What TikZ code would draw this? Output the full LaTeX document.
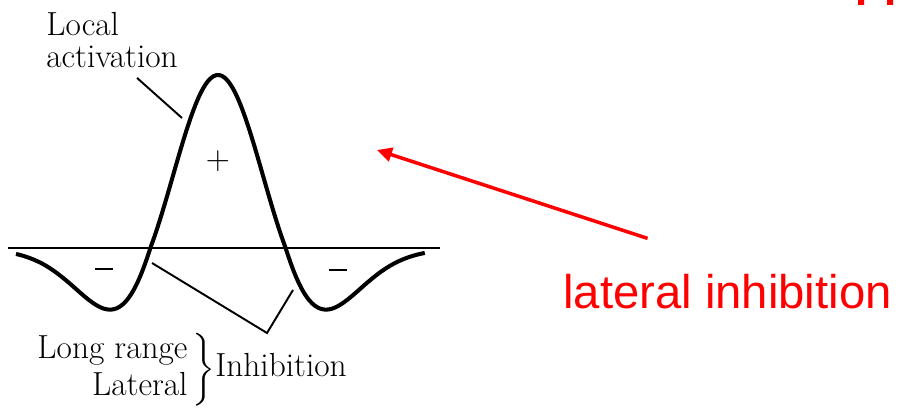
\documentclass[tikz,border=0pt]{standalone}
\usepackage{amsmath}
\usepackage{fontspec}
\newfontfamily\arialfont{Liberation Sans}
\usetikzlibrary{arrows.meta}

\begin{document}
\begin{tikzpicture}[x=0.02cm, y=-0.02cm, >={Triangle[length=8.5pt, width=8pt]}, every node/.style={inner sep=0pt, font=\fontsize{19}{21.5}\selectfont}, curve/.style={line width=2.3pt, line join=round}, axisline/.style={line width=1.6pt}, lead/.style={line width=1.1pt}, rednote/.style={font=\fontsize{26.9}{32}\selectfont\arialfont, text=red}, declare function={hat(\u)=(1-(\u/0.68)^2)*exp(-(\u/0.839)^2);}]
	\useasboundingbox (0,0) rectangle (898,411);
	\draw[axisline] (8,248) -- (440,248);
	\draw[curve] plot[domain=-2.02:2.07, samples=150, smooth] ({218+100*\x}, {249-174*(max(hat(\x),0)+1.2*min(hat(\x),0))});
	\node[anchor=base] (plus) at (218,170) {+};
	\node[anchor=center] (negL) at (104,269) {\rule{10pt}{1.2pt}};
	\node[anchor=center] (negR) at (338,270) {\rule{10pt}{1.2pt}};
	\node[align=left, anchor=north west, font=\fontsize{19}{18.1}\selectfont] (act) at (46,12) {Local\\activation};
	\coordinate (actTip) at (182,118);
	\draw[lead] ([shift={(25,10)}]act.south) -- (actTip);
	\coordinate (inL) at (152,263);
	\coordinate (inV) at (267,333);
	\coordinate (inR) at (293,290);
	\draw[lead] (inL) -- (inV) -- (inR);
	\node[anchor=base west] (inhib) at (35,377) {$\left.\begin{tabular}{@{}r@{}}Long range\\Lateral\end{tabular}\,\right\}$Inhibition};
	\node[rednote, anchor=base west] (lat) at (563,309) {lateral inhibition};
	\coordinate (arrTo) at (377,150);
	\draw[->, red, line width=2pt] ([shift={(-80,-36)}]lat.north) -- (arrTo);
	\fill[red] (858,0) rectangle (864,5) (887,0) rectangle (893,5);
\end{tikzpicture}
\end{document}
